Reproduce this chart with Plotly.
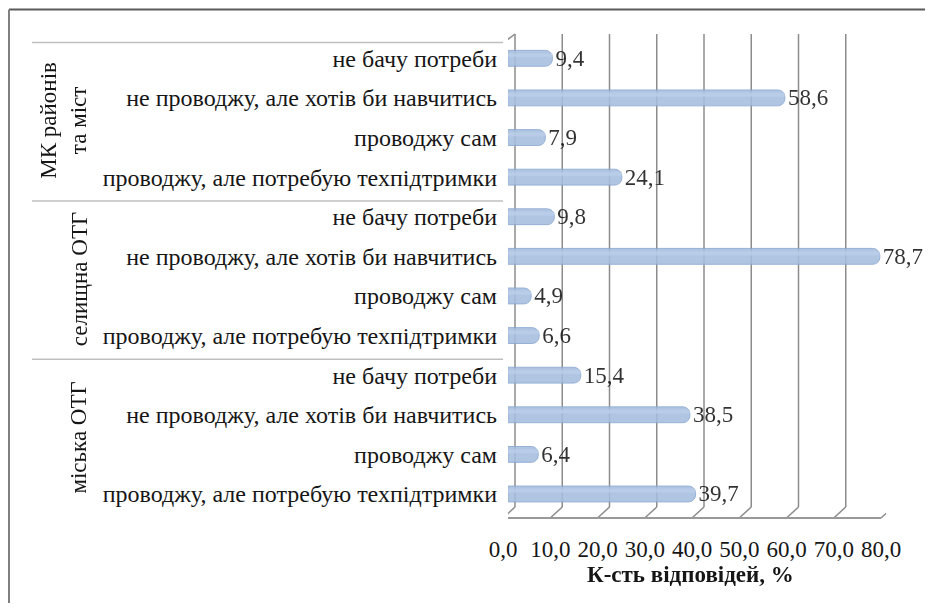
import plotly.graph_objects as go

# ---------------- data ----------------
groups = ["міська ОТГ", "селищна ОТГ", "МК районів<br>та міст"]          # bottom -> top
answers = ["проводжу, але потребую техпідтримки", "проводжу сам",
           "не проводжу, але хотів би навчитись", "не бачу потреби"]       # bottom -> top within group
values_miska = [39.7, 6.4, 38.5, 15.4]
values_selyshcha = [6.6, 4.9, 78.7, 9.8]
values_mk = [24.1, 7.9, 58.6, 9.4]
x_ticks = [0, 10, 20, 30, 40, 50, 60, 70, 80]
x_title = "К-сть відповідей, %"

# ---------------- geometry (screen pixels; page body has an 8px margin) ----------------
PAGE_M = 8
W, H = 933 - 2 * PAGE_M, 611 - 2 * PAGE_M
X0, X80 = 508, 886            # bar axis pixel extents
ROW_TOP, ROW_BOT = 38.5, 513.8
FRONT_DX, BACK_DX = -5, 7
Y_TOP_BACK, Y_TOP_FRONT = 34, 43
Y_FLOOR_BACK, Y_FLOOR_FRONT = 507, 518
FONT = "Liberation Serif"
FS = 23
FS_CAT = 24
TXT = "#161616"
LINE_H = 30                   # line pitch of two-line group labels

def px(x):
    return (x - PAGE_M) / W

def py(y):
    return 1 - (y - PAGE_M) / H

all_values = values_miska + values_selyshcha + values_mk
n = len(all_values)
ypos = list(range(n))
ylabels = answers * len(groups)

fig = go.Figure()
fig.add_trace(go.Bar(
    x=all_values, y=ypos, orientation="h", width=0.4,
    marker=dict(color="#a4bddf", line=dict(color="#89a7d0", width=1), cornerradius=7),
    opacity=0.88,
    texttemplate="%{x:.1f}", textposition="outside", constraintext="none",
    textfont=dict(family=FONT, size=FS, color=TXT),
    cliponaxis=False, hoverinfo="skip", showlegend=False,
))
fig.add_trace(go.Bar(
    x=all_values, y=ypos, orientation="h", width=0.1, offset=0.03,
    marker=dict(color="#bccfea", line=dict(width=0), cornerradius=3),
    opacity=0.8, hoverinfo="skip", showlegend=False,
))

shapes = []
grid = dict(color="#8c8c8c", width=1.5)
for v in x_ticks:
    shapes.append(dict(type="line", xref="x", xsizemode="pixel", xanchor=v, x0=BACK_DX, x1=BACK_DX,
                       yref="paper", y0=py(Y_FLOOR_BACK), y1=py(Y_TOP_BACK), line=grid, layer="below"))
    shapes.append(dict(type="line", xref="x", xsizemode="pixel", xanchor=v, x0=FRONT_DX, x1=BACK_DX,
                       yref="paper", y0=py(Y_FLOOR_FRONT), y1=py(Y_FLOOR_BACK), line=grid, layer="below"))
# floor front edge
shapes.append(dict(type="line", xref="x", xsizemode="pixel", xanchor=0, x0=FRONT_DX,
                   x1=FRONT_DX + (X80 - X0), yref="paper", y0=py(Y_FLOOR_FRONT), y1=py(Y_FLOOR_FRONT),
                   line=dict(color="#999999", width=2), layer="below"))
# left wall front edge and top diagonal
shapes.append(dict(type="line", xref="x", xsizemode="pixel", xanchor=0, x0=FRONT_DX, x1=FRONT_DX,
                   yref="paper", y0=py(Y_FLOOR_FRONT), y1=py(Y_TOP_FRONT), line=grid, layer="below"))
shapes.append(dict(type="line", xref="x", xsizemode="pixel", xanchor=0, x0=FRONT_DX, x1=BACK_DX,
                   yref="paper", y0=py(Y_TOP_FRONT), y1=py(Y_TOP_BACK), line=grid, layer="below"))
# group separators
sep = dict(color="#bfbfbf", width=1.5)
LEFT_X = 32
for k in range(len(groups) + 1):
    b = k * len(answers) - 0.5
    shapes.append(dict(type="line", xref="paper", x0=px(LEFT_X), x1=px(X0 + FRONT_DX),
                       yref="y", ysizemode="pixel", yanchor=b, y0=-4, y1=-4, line=sep))
# outer frame (top + left)
shapes.append(dict(type="line", xref="paper", x0=px(9), x1=1, yref="paper", y0=py(9.5), y1=py(9.5),
                   line=dict(color="#5a5a5a", width=2)))
shapes.append(dict(type="line", xref="paper", x0=px(9), x1=px(9), yref="paper", y0=py(9.5), y1=0,
                   line=dict(color="#808080", width=2)))

annotations = []
GROUP_LABEL_X = 79            # centre of the last line of a group label
for g, name in enumerate(groups):
    center = g * len(answers) + (len(answers) - 1) / 2
    n_lines = name.count("<br>") + 1
    xc = GROUP_LABEL_X - (n_lines - 1) * LINE_H / 2
    annotations.append(dict(text=name, textangle=-90, xref="paper", x=px(xc), yref="y", y=center,
                            yshift=-3, showarrow=False, font=dict(family=FONT, size=FS, color=TXT),
                            xanchor="center", yanchor="middle"))
annotations.append(dict(text="<b>" + x_title + "</b>", xref="paper", x=px(690), yref="paper", y=py(574),
                        showarrow=False, font=dict(family=FONT, size=FS, color=TXT),
                        xanchor="center", yanchor="middle"))

fig.update_layout(
    width=W, height=H, margin=dict(l=0, r=0, t=0, b=0, autoexpand=False),
    paper_bgcolor="white", plot_bgcolor="rgba(0,0,0,0)",
    barmode="overlay", separators=", ",
    shapes=shapes, annotations=annotations,
    font=dict(family=FONT, size=FS, color=TXT),
    xaxis=dict(domain=[px(X0), px(X80)], range=[0, 80], tickvals=x_ticks, tickformat=".1f",
               showgrid=False, zeroline=False, showline=False, ticks="", automargin=False,
               ticklabelshift=FRONT_DX, ticklabelstandoff=19,
               tickfont=dict(family=FONT, size=FS, color=TXT)),
    yaxis=dict(domain=[py(ROW_BOT), py(ROW_TOP)], range=[-0.5, n - 0.5], tickvals=ypos, ticktext=ylabels,
               showgrid=False, zeroline=False, showline=False, ticks="", ticklabelstandoff=10,
               automargin=False, tickfont=dict(family=FONT, size=FS_CAT, color=TXT)),
)

fig.write_html("out.html")
